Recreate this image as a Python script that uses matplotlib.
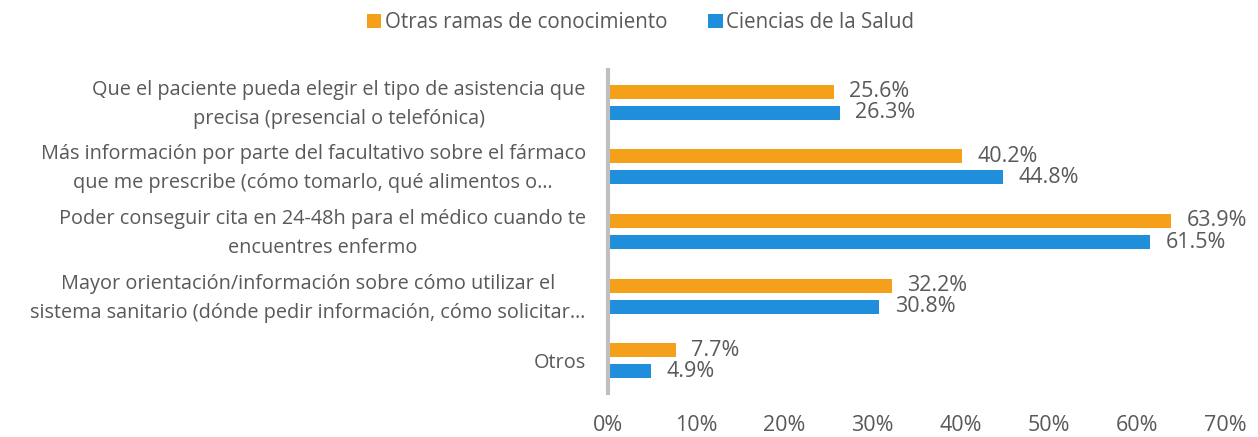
import numpy as np
import matplotlib.pyplot as plt

plt.rcParams['font.family'] = ['Open Sans', 'DejaVu Sans']

# 数据
categorias = [
    'Que el paciente pueda elegir el tipo de asistencia que\nprecisa (presencial o telefónica)',
    'Más información por parte del facultativo sobre el fármaco\nque me prescribe (cómo tomarlo, qué alimentos o…',
    'Poder conseguir cita en 24-48h para el médico cuando te\nencuentres enfermo',
    'Mayor orientación/información sobre cómo utilizar el\nsistema sanitario (dónde pedir información, cómo solicitar…',
    'Otros',
]
otras_ramas = [25.6, 40.2, 63.9, 32.2, 7.7]
ciencias_salud = [26.3, 44.8, 61.5, 30.8, 4.9]
xticks = [0, 10, 20, 30, 40, 50, 60, 70]

naranja = '#F5A01A'
azul = '#1F8FDB'
gris_texto = '#595959'

fig = plt.figure(figsize=(12.58, 4.37), dpi=100)
ax = fig.add_axes([608 / 1258, 1 - 393 / 437, (1225 - 608) / 1258, (393 - 70) / 437])

y = np.arange(len(categorias))
h = 0.215
off = 0.163
b1 = ax.barh(y - off, otras_ramas, height=h, color=naranja, label='Otras ramas de conocimiento')
b2 = ax.barh(y + off, ciencias_salud, height=h, color=azul, label='Ciencias de la Salud')

for bars, vals in ((b1, otras_ramas), (b2, ciencias_salud)):
    for bar, v in zip(bars, vals):
        ax.annotate(f'{v:.1f}%', (v, bar.get_y() + bar.get_height() / 2),
                    xytext=(11, 0), textcoords='offset points',
                    va='center', ha='left', fontsize=15.5, color=gris_texto)

ax.set_ylim(len(categorias) - 0.5, -0.5)
ax.set_xlim(0, 70)
ax.set_yticks(y, labels=[''] * len(y))
# etiquetas de categoría a mano (centradas en varias líneas)
for i, cat in zip(y, categorias):
    ax.annotate(cat, (0, i), xycoords=('axes fraction', 'data'),
                xytext=(-16, -1.5), textcoords='offset points',
                ha='right', va='center', multialignment='center',
                fontsize=14.3, color=gris_texto, linespacing=1.6)
ax.set_xticks(xticks)
ax.set_xticklabels([f'{t}%' for t in xticks], fontsize=15.5, color=gris_texto)
ax.tick_params(axis='both', length=0)
ax.tick_params(axis='x', pad=16)

for s in ['top', 'right', 'bottom']:
    ax.spines[s].set_visible(False)
ax.spines['left'].set_color('#BFBFBF')
ax.spines['left'].set_linewidth(3)

fig.legend(handles=[b1, b2], loc='upper center', bbox_to_anchor=(0.509, 1.015), ncol=2,
           frameon=False, fontsize=14.8, handlelength=0.7, handleheight=0.7,
           handletextpad=0.15, columnspacing=2.0, labelcolor=gris_texto)

plt.savefig('out.png', dpi=100)
